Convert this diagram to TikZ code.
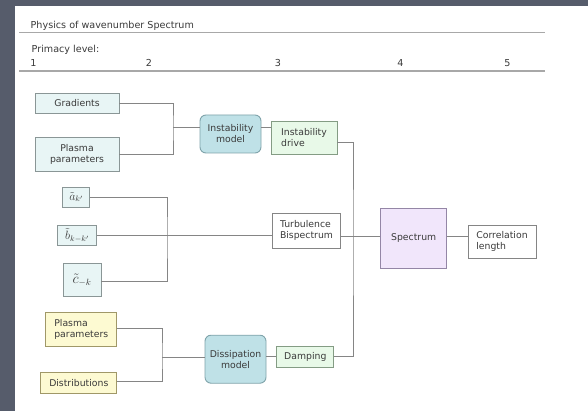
\documentclass[tikz,border=0pt]{standalone}
\usepackage{fontspec}
\setmainfont{DejaVu Sans}
\usetikzlibrary{calc}
\definecolor{slate}{HTML}{565C6B}
\definecolor{txt}{HTML}{3A3A3A}
\definecolor{rulegray}{HTML}{A8A8A8}
\definecolor{wire}{HTML}{858585}
\definecolor{cyanfill}{HTML}{E8F5F5}
\definecolor{cyanline}{HTML}{8A9696}
\definecolor{modelfill}{HTML}{BFE1E7}
\definecolor{modelline}{HTML}{7FA3AA}
\definecolor{greenfill}{HTML}{E8F9E8}
\definecolor{greenline}{HTML}{849C84}
\definecolor{yellowfill}{HTML}{FDFAD2}
\definecolor{yellowline}{HTML}{A09868}
\definecolor{lilacfill}{HTML}{F1E6FB}
\definecolor{lilacline}{HTML}{9486A6}
\tikzset{
  base/.style={draw, line width=0.9pt, inner sep=2pt, text=txt,
    font=\fontsize{9.3}{11}\selectfont},
  inputbox/.style={base, fill=cyanfill, draw=cyanline},
  modelbox/.style={base, fill=modelfill, draw=modelline, rounded corners=6pt, align=center},
  resultbox/.style={base, fill=greenfill, draw=greenline, align=left},
  plainbox/.style={base, fill=white, draw=wire, align=left},
  dissbox/.style={base, fill=yellowfill, draw=yellowline, align=left},
  specbox/.style={base, fill=lilacfill, draw=lilacline},
  termbox/.style={inputbox, inner sep=1pt, font=\fontsize{11.5}{13}\selectfont},
  bigterm/.style={inputbox, inner sep=1pt, font=\fontsize{13.5}{15}\selectfont},
  wiring/.style={draw=wire, line width=0.9pt},
  header/.style={text=txt, font=\fontsize{9.6}{11}\selectfont, inner sep=0pt},
  hrule/.style={draw=rulegray, line width=1.3pt},
}
\begin{document}
\begin{tikzpicture}[x=1pt, y=-1pt]
\useasboundingbox (0,0) rectangle (588,411);
% backdrop and sheet
\fill[slate] (0,0) rectangle (588,411);
\fill[white] (15,6) rectangle (588,411);

% heading
\node[header, anchor=base west] (title) at (30.5,28.5) {Physics of wavenumber Spectrum};
\draw[hrule] (19,32.7) -- (545,32.7);
\node[header, anchor=base west] (primacy) at (31.5,53) {Primacy level:};
\node[header, anchor=base] (lv1) at (33.5,67) {1};
\node[header, anchor=base] (lv2) at (149,67) {2};
\node[header, anchor=base] (lv3) at (278,67) {3};
\node[header, anchor=base] (lv4) at (400.5,67) {4};
\node[header, anchor=base] (lv5) at (507.5,67) {5};
\draw[hrule] (19,71) -- (545,71);

% instability branch
\node[inputbox, minimum width=84pt, minimum height=20pt] (grad) at (77,103) {Gradients};
\node[inputbox, minimum width=84pt, minimum height=34pt, align=center] (pp1) at (77,154) {Plasma\\parameters};
\node[modelbox, minimum width=61pt, minimum height=38pt] (imodel) at (230.5,134) {Instability\\model};
\node[resultbox, minimum width=66pt, minimum height=33pt] (idrive) at (304,137.5) {Instability\\drive};

% turbulence branch
\node[termbox, minimum width=27pt, minimum height=20pt] (ta) at (76.3,197) {$\tilde{a}{}_{k'}$};
\node[termbox, minimum width=39pt, minimum height=20pt] (tb) at (77.2,235.7) {$\tilde{b}{}_{k-k'}$};
\node[bigterm, minimum width=38pt, minimum height=33pt] (tc) at (82,280) {$\tilde{c}{}_{-k}$};
\node[plainbox, minimum width=68pt, minimum height=35pt] (turb) at (306.5,230.8) {Turbulence\\Bispectrum};

% dissipation branch
\node[dissbox, minimum width=71pt, minimum height=34pt] (pp2) at (81.3,329) {Plasma\\parameters};
\node[dissbox, minimum width=76pt, minimum height=21pt] (dist) at (78.8,382.7) {Distributions};
\node[modelbox, minimum width=61pt, minimum height=48pt] (dmodel) at (235.5,359.2) {Dissipation\\model};
\node[resultbox, minimum width=57pt, minimum height=21pt] (damp) at (305.3,356.5) {Damping};

% outputs
\node[specbox, minimum width=66pt, minimum height=60pt] (spec) at (413.7,238.5) {Spectrum};
\node[plainbox, minimum width=68pt, minimum height=33pt] (corr) at (502,241.7) {Correlation\\length};

% junction points
\coordinate (j1) at (173,127);
\coordinate (j2) at (167,236);
\coordinate (j3) at (162,357);
\coordinate (bus) at (353,236);
\coordinate (lane) at (0,236.5);

% instability wiring
\draw[wiring] (grad.east) -| (j1) |- (pp1.east);
\draw[wiring] (j1) -- (imodel.west |- j1);
\draw[wiring] (imodel.east |- j1) -- (idrive.west |- j1);
\draw[wiring] ([yshift=-5pt]idrive.east) -| (bus) |- ([yshift=0.5pt]damp.east);

% turbulence wiring
\draw[wiring] (ta.east) -| (j2) |- ([yshift=-1pt]tc.east);
\draw[wiring] (tb.east) -- (turb.west |- tb.east);
\draw[wiring] (turb.east |- lane) -- (spec.west |- lane);
\draw[wiring] (spec.east |- lane) -- (corr.west |- lane);

% dissipation wiring
\draw[wiring] ([yshift=1pt]pp2.east) -| (j3) |- ([yshift=1.3pt]dist.east);
\draw[wiring] (j3) -- (dmodel.west |- j3);
\draw[wiring] (dmodel.east |- damp.west) -- (damp.west);
\end{tikzpicture}
\end{document}
